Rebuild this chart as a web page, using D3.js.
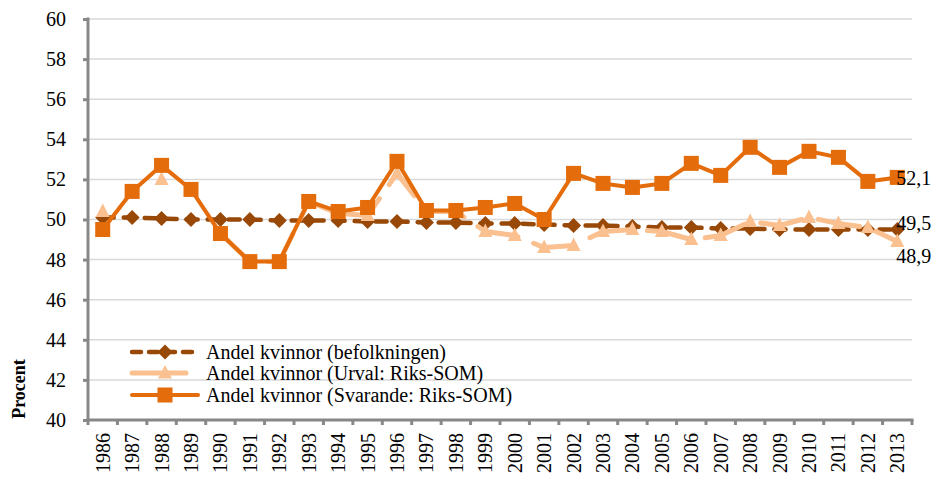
<!DOCTYPE html>
<html>
<head>
<meta charset="utf-8">
<script src="https://cdn.jsdelivr.net/npm/d3@7"></script>
<style>
  body { margin: 0; background: #fff; }
  svg { display: block; font-family: "Liberation Serif", "Times New Roman", serif; }
</style>
</head>
<body>
<div id="chart"></div>
<script>
const years = d3.range(1986, 2014).map(String);

const befolkningen = [50.1, 50.1, 50.05, 50.0, 50.0, 50.0, 49.95, 49.95, 49.95, 49.9, 49.9, 49.85, 49.85, 49.8,
  49.8, 49.75, 49.7, 49.7, 49.65, 49.6, 49.6, 49.55, 49.55, 49.5, 49.5, 49.5, 49.5, 49.5];

// null = no sample figure for that year
const urval = [50.4, null, 52.0, null, 49.3, 47.9, 47.9, 50.9, 50.3, 50.2, 52.3, 50.4, 50.4, 49.4,
  49.2, 48.6, 48.7, 49.4, 49.5, 49.4, 49.0, 49.2, 49.9, 49.7, 50.1, 49.8, 49.6, 48.9];

const svarande = [49.5, 51.4, 52.7, 51.5, 49.3, 47.9, 47.9, 50.9, 50.4, 50.6, 52.9, 50.45, 50.45, 50.6,
  50.8, 50.0, 52.3, 51.8, 51.6, 51.8, 52.8, 52.2, 53.6, 52.6, 53.4, 53.1, 51.9, 52.1];

const yTicks = d3.range(40, 61, 2);

const seriesNames = [
  "Andel kvinnor (befolkningen)",
  "Andel kvinnor (Urval: Riks-SOM)",
  "Andel kvinnor (Svarande: Riks-SOM)",
];

const series = [
  { name: seriesNames[0], values: befolkningen, color: "#984807", width: 4.5, dash: "11,10", marker: "diamond", endLabel: "49,5", dy: -7 },
  { name: seriesNames[1], values: urval, color: "#FAC090", width: 5, dash: "42,17", marker: "triangle", endLabel: "48,9", dy: 14 },
  { name: seriesNames[2], values: svarande, color: "#E46C0A", width: 4, dash: null, marker: "square", endLabel: "52,1", dy: 1 },
];

const W = 937, H = 477;
const margin = { top: 19, right: 25, bottom: 57, left: 88 };

const svg = d3.select("#chart").append("svg").attr("width", W).attr("height", H);

const x = d3.scaleBand().domain(years).range([margin.left, W - margin.right]);
const y = d3.scaleLinear().domain([40, 60]).range([H - margin.bottom, margin.top]);
const cx = (d) => x(d) + x.bandwidth() / 2;

// gridlines
svg.append("g")
  .selectAll("line")
  .data(yTicks.filter((d) => d > 40))
  .join("line")
  .attr("x1", margin.left)
  .attr("x2", W - margin.right)
  .attr("y1", (d) => y(d))
  .attr("y2", (d) => y(d))
  .attr("stroke", "#d9d9d9")
  .attr("stroke-width", 1.5);

// y axis
const yAxis = svg.append("g")
  .attr("transform", `translate(${margin.left},0)`)
  .call(d3.axisLeft(y).tickValues(yTicks).tickSize(5).tickPadding(17).tickFormat(d3.format("d")));
yAxis.selectAll("line").attr("stroke", "#888").attr("stroke-width", 3);
yAxis.select(".domain").attr("stroke", "#888").attr("stroke-width", 3).attr("d", `M0,${y(60) - 1.5}V${y(40)}`);
yAxis.selectAll("text").attr("font-size", 20).attr("font-family", "Liberation Serif").attr("fill", "#000");

// x axis
const xAxis = svg.append("g").attr("transform", `translate(0,${y(40)})`);
xAxis.append("line")
  .attr("x1", margin.left - 1.5)
  .attr("x2", W - margin.right + 1.5)
  .attr("stroke", "#888")
  .attr("stroke-width", 3);
xAxis.selectAll(".tick")
  .data(years.map((d) => x(d)).concat([x.range()[1]]))
  .join("line")
  .attr("class", "tick")
  .attr("x1", (d) => d)
  .attr("x2", (d) => d)
  .attr("y1", 0)
  .attr("y2", 5)
  .attr("stroke", "#888")
  .attr("stroke-width", 3);
xAxis.selectAll("text")
  .data(years)
  .join("text")
  .attr("transform", (d) => `translate(${cx(d)},13) rotate(-90)`)
  .attr("text-anchor", "end")
  .attr("dy", "0.35em")
  .attr("font-size", 20)
  .text((d) => d);

// y title
svg.append("text")
  .attr("transform", `translate(19,389) rotate(-90)`)
  .attr("text-anchor", "middle")
  .attr("dy", "0.35em")
  .attr("font-size", 18)
  .attr("font-weight", "bold")
  .text("Procent");

function drawMarker(g, type, color) {
  if (type === "square") {
    g.append("rect").attr("x", -7.5).attr("y", -7.5).attr("width", 15).attr("height", 15).attr("fill", color);
  } else if (type === "diamond") {
    g.append("path").attr("d", "M0,-7.5L7.5,0L0,7.5L-7.5,0Z").attr("fill", color);
  } else {
    g.append("path").attr("d", "M0,-8L7,5.5L-7,5.5Z").attr("fill", color);
  }
}

const line = d3.line()
  .defined((d) => d != null)
  .x((d, i) => cx(years[i]))
  .y((d) => y(d));

series.forEach((s) => {
  svg.append("path")
    .datum(s.values)
    .attr("fill", "none")
    .attr("stroke", s.color)
    .attr("stroke-width", s.width)
    .attr("stroke-linecap", s.dash ? "round" : "butt")
    .attr("stroke-linejoin", "round")
    .attr("stroke-dasharray", s.dash)
    .attr("d", line);

  svg.append("g")
    .selectAll("g")
    .data(s.values.map((v, i) => [years[i], v]).filter((d) => d[1] != null))
    .join("g")
    .attr("transform", (d) => `translate(${cx(d[0])},${y(d[1])})`)
    .each(function () { drawMarker(d3.select(this), s.marker, s.color); });
});

// end labels
series.forEach((s) => {
  const last = s.values[s.values.length - 1];
  svg.append("text")
    .attr("x", cx(years[years.length - 1]) - 1)
    .attr("y", y(last) + s.dy)
    .attr("dy", "0.35em")
    .attr("font-size", 20)
    .text(s.endLabel);
});

// legend
const legend = svg.append("g");
const legendY = [352, 373, 395];
series.forEach((s, i) => {
  const row = legend.append("g").attr("transform", `translate(130,${legendY[i]})`);
  row.append("line")
    .attr("x1", 2).attr("x2", 68)
    .attr("stroke", s.color)
    .attr("stroke-width", s.width)
    .attr("stroke-linecap", "round")
    .attr("stroke-dasharray", s.dash ? (i === 0 ? "9,8" : "54,12") : null);
  drawMarker(row.append("g").attr("transform", "translate(35,0)"), s.marker, s.color);
  row.append("text")
    .attr("x", 76)
    .attr("dy", "0.35em")
    .attr("font-size", 20)
    .text(s.name);
});
</script>
</body>
</html>
